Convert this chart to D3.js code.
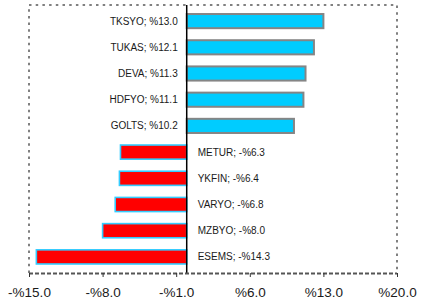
<!DOCTYPE html>
<html>
<head>
<meta charset="utf-8">
<script src="https://cdn.jsdelivr.net/npm/d3@7"></script>
<style>
  body { margin: 0; background: #fff; }
  text { font-family: "Liberation Sans", Arial, sans-serif; }
</style>
</head>
<body>
<svg id="chart"></svg>
<script>
// data
let names = ["TKSYO", "TUKAS", "DEVA", "HDFYO", "GOLTS", "METUR", "YKFIN", "VARYO", "MZBYO", "ESEMS"];
let values = [13.0, 12.1, 11.3, 11.1, 10.2, -6.3, -6.4, -6.8, -8.0, -14.3];
let tickValues = [-15, -8, -1, 6, 13, 20];

let width = 432;
let height = 301;
let plotLeft = 29, plotRight = 397, plotTop = 5, plotBottom = 273;

var svg = d3.select("#chart").attr("width", width).attr("height", height);

let x = d3.scaleLinear().domain([-15, 20]).range([plotLeft, plotRight]);
let y = d3.scaleBand().domain(names).range([8, 270]).paddingInner(0.46).paddingOuter(0.23);

function pct(v) {
  return (v < 0 ? "-%" : "%") + Math.abs(v).toFixed(1);
}

// dotted plot border (top, left, right)
svg.append("path")
  .attr("d", `M${plotLeft},${plotBottom} V${plotTop} H${plotRight} V${plotBottom}`)
  .attr("fill", "none")
  .attr("stroke", "#808080")
  .attr("stroke-width", 2)
  .attr("stroke-dasharray", "2.5,4.2");

// bars
svg.selectAll("rect.bar")
  .data(values)
  .enter()
  .append("rect")
  .attr("class", "bar")
  .attr("x", d => x(Math.min(0, d)))
  .attr("y", (d, i) => y(names[i]))
  .attr("width", d => Math.abs(x(d) - x(0)))
  .attr("height", y.bandwidth())
  .attr("fill", d => d >= 0 ? "#00ccff" : "#ff0000")
  .attr("stroke", d => d >= 0 ? "#858585" : "#33ccff")
  .attr("stroke-width", d => d >= 0 ? 2 : 1.6);

// zero line
svg.append("line")
  .attr("x1", x(0)).attr("x2", x(0))
  .attr("y1", plotTop).attr("y2", plotBottom)
  .attr("stroke", "#000")
  .attr("stroke-width", 1.5);

// bar labels
svg.selectAll("text.lbl")
  .data(values)
  .enter()
  .append("text")
  .attr("class", "lbl")
  .text((d, i) => names[i] + "; " + pct(d))
  .attr("x", d => d >= 0 ? x(0) - 9 : x(0) + 11)
  .attr("y", (d, i) => y(names[i]) + y.bandwidth() / 2)
  .attr("dy", "0.35em")
  .attr("text-anchor", d => d >= 0 ? "end" : "start")
  .attr("font-size", "10px")
  .attr("fill", "#1a1a1a");

// x axis
let axis = svg.append("g").attr("transform", `translate(0,${plotBottom})`)
  .call(d3.axisBottom(x).tickValues(tickValues).tickSize(4).tickFormat(pct));
axis.select(".domain")
  .attr("d", `M${plotLeft},0.5H${plotRight}`)
  .attr("stroke", "#555")
  .attr("stroke-width", 2)
  .attr("stroke-dasharray", "4,2");
axis.selectAll(".tick line").attr("stroke", "#333");
axis.selectAll(".tick text")
  .attr("font-family", "Liberation Sans, Arial, sans-serif")
  .attr("font-size", "13.5px")
  .attr("fill", "#1a1a1a")
  .attr("y", 14);
</script>
</body>
</html>
